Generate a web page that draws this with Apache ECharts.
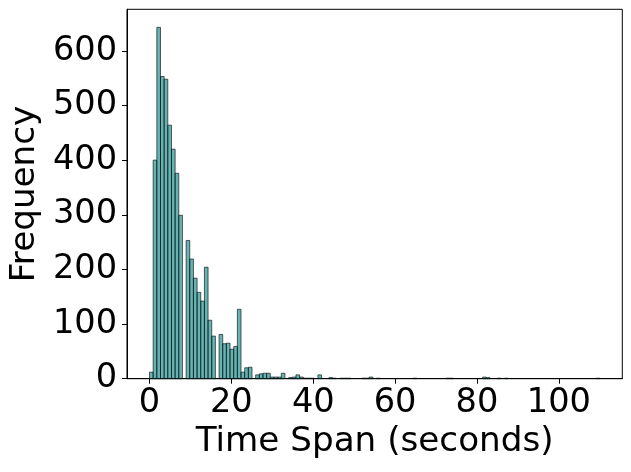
<!DOCTYPE html>
<html>
<head>
<meta charset="utf-8">
<script src="https://cdn.jsdelivr.net/npm/echarts@6/dist/echarts.min.js"></script>
<style>
html,body{margin:0;padding:0;background:#fff;}
#chart{width:631px;height:472px;}
</style>
</head>
<body>
<div id="chart"></div>
<script>
// Histogram of time spans (seconds): 123 equal bins from 0 to 110
const histMin = 0;
const histMax = 110;
const binCount = 123;
const binFrequency = [
  12, 400, 643, 553, 548, 464, 420, 376, 299, 0,
  253, 219, 184, 158, 142, 204, 107, 78, 0, 81,
  64, 65, 54, 59, 127, 12, 20, 21, 0, 7,
  9, 10, 10, 3, 3, 3, 10, 0, 2, 3,
  7, 3, 1, 1, 1, 0, 7, 0, 0, 2,
  1, 0, 1, 1, 1, 0, 0, 0, 1, 1,
  3, 0, 1, 0, 0, 0, 0, 0, 0, 0,
  0, 0, 1, 0, 0, 0, 0, 0, 0, 0,
  0, 1, 1, 0, 0, 0, 0, 0, 0, 0,
  0, 3, 2, 0, 0, 1, 0, 1, 0, 0,
  0, 0, 0, 0, 0, 0, 0, 0, 0, 0,
  0, 0, 0, 0, 0, 0, 0, 0, 0, 0,
  0, 0, 1
];
const xTicks = [0, 20, 40, 60, 80, 100];
const yTicks = [0, 100, 200, 300, 400, 500, 600];
const xTitle = 'Time Span (seconds)';
const yTitle = 'Frequency';

const binWidth = (histMax - histMin) / binCount;
const binData = binFrequency.map((f, i) => [histMin + i * binWidth, histMin + (i + 1) * binWidth, f]);

const FONT = 'DejaVu Sans';
const chart = echarts.init(document.getElementById('chart'), null, {renderer: 'canvas'});
chart.setOption({
  animation: false,
  backgroundColor: '#fff',
  grid: {left: 126.3, top: 9.3, width: 496, height: 369.4, show: true, borderColor: '#000', borderWidth: 1, backgroundColor: 'transparent'},
  xAxis: {
    type: 'value', min: -5.5, max: 115.5,
    splitLine: {show: false},
    axisLine: {show: true, onZero: false, lineStyle: {color: '#000', width: 1}},
    axisTick: {show: true, inside: false, length: 5, customValues: xTicks, lineStyle: {color: '#000', width: 1}},
    axisLabel: {show: true, customValues: xTicks, fontFamily: FONT, fontSize: 33.6, color: '#000', margin: 8},
    name: xTitle, nameLocation: 'middle', nameGap: 46,
    nameTextStyle: {fontFamily: FONT, fontSize: 34.2, color: '#000'}
  },
  yAxis: {
    type: 'value', min: 0, max: 676,
    splitLine: {show: false},
    axisLine: {show: true, onZero: false, lineStyle: {color: '#000', width: 1}},
    axisTick: {show: true, inside: false, length: 5, customValues: yTicks, lineStyle: {color: '#000', width: 1}},
    axisLabel: {show: true, customValues: yTicks, fontFamily: FONT, fontSize: 33.6, color: '#000', margin: 10},
    name: yTitle, nameLocation: 'middle', nameGap: 77,
    nameTextStyle: {fontFamily: FONT, fontSize: 34.2, color: '#000'}
  },
  series: [{
    type: 'custom',
    data: binData,
    encode: {x: [0, 1], y: 2},
    renderItem: function (params, api) {
      const f = api.value(2);
      if (!f) return null;
      const p0 = api.coord([api.value(0), f]);
      const p1 = api.coord([api.value(1), 0]);
      return {
        type: 'rect',
        shape: {x: p0[0], y: p0[1], width: p1[0] - p0[0], height: p1[1] - p0[1]},
        style: {fill: 'rgba(0,128,128,0.6)', stroke: 'rgba(0,0,0,0.6)', lineWidth: 1}
      };
    }
  }]
});
</script>
</body>
</html>
